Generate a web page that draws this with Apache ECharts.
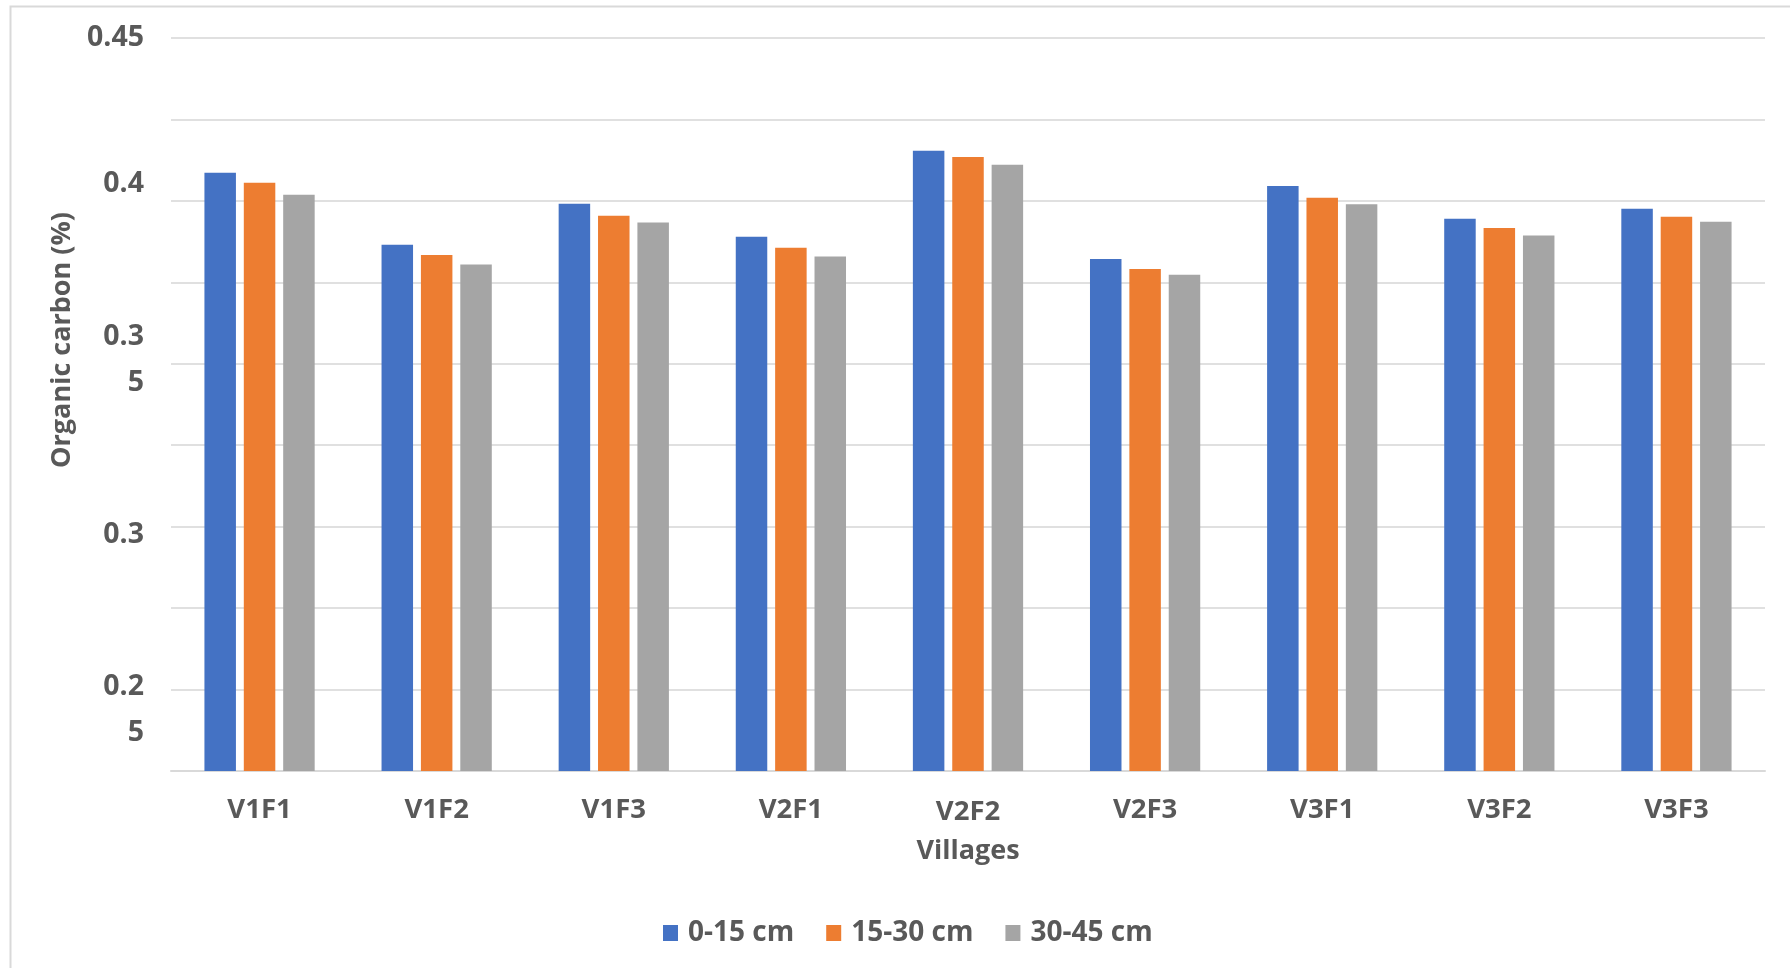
<!DOCTYPE html>
<html>
<head>
<meta charset="utf-8">
<title>Organic carbon by village</title>
<script src="https://cdn.jsdelivr.net/npm/echarts@6/dist/echarts.min.js"></script>
<style>
  html, body { margin: 0; padding: 0; background: #ffffff; }
  #chart { width: 1790px; height: 968px; }
</style>
</head>
<body>
<div id="chart"></div>
<script>
// Villages / farms along the category axis
const categories = ['V1F1', 'V1F2', 'V1F3', 'V2F1', 'V2F2', 'V2F3', 'V3F1', 'V3F2', 'V3F3'];

// Organic carbon (%) for each soil depth
const depth0to15 = [0.4086, 0.3865, 0.3991, 0.3890, 0.4154, 0.3822, 0.4046, 0.3945, 0.3976];
const depth15to30 = [0.4056, 0.3834, 0.3954, 0.3856, 0.4135, 0.3791, 0.4010, 0.3917, 0.3951];
const depth30to45 = [0.4019, 0.3805, 0.3934, 0.3829, 0.4111, 0.3773, 0.3990, 0.3894, 0.3936];

const seriesNames = ['0-15 cm', '15-30 cm', '30-45 cm'];

// Value-axis tick labels (only these ticks carry text; the long ones wrap)
const yLabelValues = [0.25, 0.3, 0.35, 0.4, 0.45];
const yLabelTexts = ['0.2\n5', '0.3', '0.3\n5', '0.4', '0.45'];
// vertical nudge of each label block: positive = spacer below (moves up), negative = spacer above (moves down)
const yLabelNudge = [-40, -16, 8, 34, 0];

const textColor = '#595959';
const fontFamily = '"Open Sans", "Noto Sans", sans-serif';

function yLabel(value) {
  const idx = yLabelValues.findIndex(v => Math.abs(v - value) < 1e-6);
  if (idx < 0) return '';
  const lines = yLabelTexts[idx].split('\n').map(t => '{p|' + t + '}');
  const nudge = yLabelNudge[idx];
  if (nudge > 0) lines.push('{g' + nudge + '| }');
  if (nudge < 0) lines.unshift('{g' + (-nudge) + '| }');
  return lines.join('\n');
}

const gapStyles = {};
yLabelNudge.forEach(n => {
  const g = Math.abs(n);
  if (g > 0) gapStyles['g' + g] = { lineHeight: g, height: g, fontSize: 1 };
});

// V2F2 sits a touch lower than its neighbours
function xLabel(value) {
  return value === 'V2F2' ? '{low|' + value + '}' : '{n|' + value + '}';
}

const xLabelText = { color: textColor, fontFamily: fontFamily, fontWeight: 'bold', fontSize: 27.5, lineHeight: 28 };

const chart = echarts.init(document.getElementById('chart'), null, { renderer: 'canvas' });

const option = {
  backgroundColor: '#ffffff',
  animation: false,
  color: ['#4472C4', '#ED7D31', '#A5A5A5'],
  graphic: [{
    type: 'rect',
    silent: true,
    shape: { x: 10.5, y: 6.5, width: 1800, height: 1000 },
    style: { fill: 'none', stroke: '#d9d9d9', lineWidth: 2 }
  }],
  grid: { left: 171, right: 25, top: 38, bottom: 197, containLabel: false },
  legend: {
    data: seriesNames,
    left: 658,
    top: 914,
    itemWidth: 15,
    itemHeight: 16,
    itemGap: 32,
    icon: 'rect',
    textStyle: {
      color: textColor, fontFamily: fontFamily, fontWeight: 'bold',
      fontSize: 28, lineHeight: 28, padding: [0, 0, 0, 5]
    }
  },
  xAxis: {
    type: 'category',
    data: categories,
    name: 'Villages',
    nameLocation: 'middle',
    nameGap: 66,
    nameTextStyle: { color: textColor, fontFamily: fontFamily, fontWeight: 'bold', fontSize: 27, lineHeight: 28 },
    axisLine: { show: true, lineStyle: { color: '#d9d9d9', width: 2 } },
    axisTick: { show: false },
    axisLabel: {
      margin: 25,
      formatter: xLabel,
      rich: {
        n: xLabelText,
        low: Object.assign({}, xLabelText, { padding: [5, 0, 0, 0] })
      }
    }
  },
  yAxis: {
    type: 'value',
    min: 0.225,
    max: 0.45,
    interval: 0.025,
    name: 'Organic carbon (%)',
    nameLocation: 'middle',
    nameRotate: 90,
    nameGap: 92,
    nameTextStyle: {
      color: textColor, fontFamily: fontFamily, fontWeight: 'bold', fontSize: 27, lineHeight: 28,
      padding: [0, 0, 0, 129]
    },
    axisLine: { show: false },
    axisTick: { show: false },
    splitLine: { show: true, lineStyle: { color: '#e0e0e0', width: 2 } },
    axisLabel: {
      margin: 27,
      formatter: yLabel,
      rich: Object.assign({
        p: { color: textColor, fontFamily: fontFamily, fontWeight: 'bold', fontSize: 28.5, lineHeight: 46, align: 'right' }
      }, gapStyles)
    }
  },
  series: [
    { name: seriesNames[0], type: 'bar', data: depth0to15, barWidth: 31.5, barGap: '25%', barCategoryGap: '37.6%' },
    { name: seriesNames[1], type: 'bar', data: depth15to30, barWidth: 31.5, barGap: '25%' },
    { name: seriesNames[2], type: 'bar', data: depth30to45, barWidth: 31.5, barGap: '25%' }
  ]
};

chart.setOption(option);
</script>
</body>
</html>
